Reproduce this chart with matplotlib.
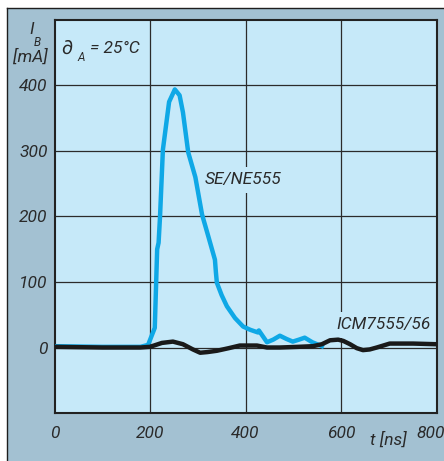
import matplotlib
matplotlib.use("Agg")
import matplotlib.pyplot as plt
from matplotlib.patches import Rectangle
from matplotlib.lines import Line2D
from matplotlib.transforms import ScaledTranslation

# ---------- data ----------
t_se = [0, 100, 180, 196, 210, 215, 218, 221, 227, 240, 252, 262, 269, 280, 295,
        309, 322, 336, 338, 340, 350, 361, 378, 395, 410, 426, 428, 445, 458,
        472, 486, 499, 512, 524, 540, 560]
ib_se = [2, 1, 1, 4, 30, 150, 160, 200, 302, 375, 394, 385, 359, 298, 260,
         203, 170, 134, 115, 99, 80, 63, 45, 32, 27, 23, 26, 8, 12,
         18, 13, 9, 12, 15, 8, 2]

t_icm = [0, 100, 180, 200, 225, 248, 269, 290, 305, 320, 340, 365, 388, 424, 445,
         472, 510, 541, 560, 577, 594, 605, 619, 633, 646, 660, 675, 702, 751, 800]
ib_icm = [1, 0, 0, 1, 7, 9, 5, -3, -8, -7, -5, -1, 3, 3, 0,
          0, 1, 2, 5, 11, 12, 10, 5, -1, -4, -3, 0, 6, 6, 5]

x_ticks = [0, 200, 400, 600, 800]
y_ticks = [0, 100, 200, 300, 400]

OUTER = "#a3c1d2"
INNER = "#c6e9f9"
BLUE = "#0fa8e6"
INK = "#2b2b2b"
TXT = "#2a2a2a"

plt.rcParams["font.family"] = ["Roboto", "DejaVu Sans"]
plt.rcParams["font.style"] = "italic"

fig = plt.figure(figsize=(4.44, 4.61), dpi=100)
fig.patch.set_facecolor("white")

# outer panel
fig.patches.append(Rectangle((7 / 444, 0), 1 - 7 / 444, 453 / 461, transform=fig.transFigure,
                             facecolor=OUTER, edgecolor="none", zorder=-10))
fig.lines.append(Line2D([7 / 444, 7 / 444], [0, 453 / 461], transform=fig.transFigure,
                        color="#1e1e1e", lw=1.0, zorder=-9))
fig.lines.append(Line2D([7 / 444, 1], [453 / 461, 453 / 461], transform=fig.transFigure,
                        color="#1e1e1e", lw=1.0, zorder=-9))

ax = fig.add_axes([54.5 / 444, 48 / 461, 382 / 444, 393 / 461])
ax.set_facecolor(INNER)
ax.set_xlim(0, 800)
ax.set_ylim(-100, 500)

for v in [200, 400, 600]:
    ax.axvline(v, color=INK, lw=0.9, zorder=1)
for v in y_ticks:
    ax.axhline(v, color=INK, lw=0.9, zorder=1)

ax.plot(t_se, ib_se, color=BLUE, lw=3.2, solid_joinstyle="round", zorder=3)
ax.plot(t_icm, ib_icm, color="#1a1a1a", lw=3.2, solid_joinstyle="round", zorder=4)

ax.set_xticks(x_ticks)
ax.set_yticks(y_ticks)
ax.tick_params(length=0, labelsize=12.5, labelcolor=TXT)
ax.tick_params(axis="x", pad=9)
ax.tick_params(axis="y", pad=5)
# last x label pulled in so it stays inside the figure
lbl = ax.get_xticklabels()[-1]
lbl.set_transform(lbl.get_transform() + ScaledTranslation(-6 / 100, 0, fig.dpi_scale_trans))
for s in ax.spines.values():
    s.set_linewidth(1.5)
    s.set_color("#222222")

ax.text(395, 256, "SE/NE555", fontsize=12.5, color=TXT, ha="center", va="center",
        bbox=dict(facecolor=INNER, edgecolor="none", pad=4), zorder=2)
ax.text(690, 35, "ICM7555/56", fontsize=12.5, color=TXT, ha="center", va="center",
        bbox=dict(facecolor=INNER, edgecolor="none", pad=4), zorder=2)

# theta_A = 25 C
ax.text(14, 456, "\u2202", fontsize=14, color=TXT, ha="left", va="center")
ax.text(48, 442, "A", fontsize=8.5, color=TXT, ha="left", va="center")
ax.text(74, 456, "= 25\u00b0C", fontsize=12.5, color=TXT, ha="left", va="center")

# axis labels
fig.text(31.5 / 444, 1 - 30 / 461, "I", fontsize=12.5, color=TXT, ha="center", va="center")
fig.text(37 / 444, 1 - 42 / 461, "B", fontsize=8.5, color=TXT, ha="center", va="center")
fig.text(30 / 444, 1 - 57 / 461, "[mA]", fontsize=12.5, color=TXT, ha="center", va="center")
fig.text(388 / 444, 1 - 440 / 461, "t [ns]", fontsize=12.5, color=TXT, ha="center", va="center")

fig.savefig("out.png", dpi=100, facecolor=fig.get_facecolor())
